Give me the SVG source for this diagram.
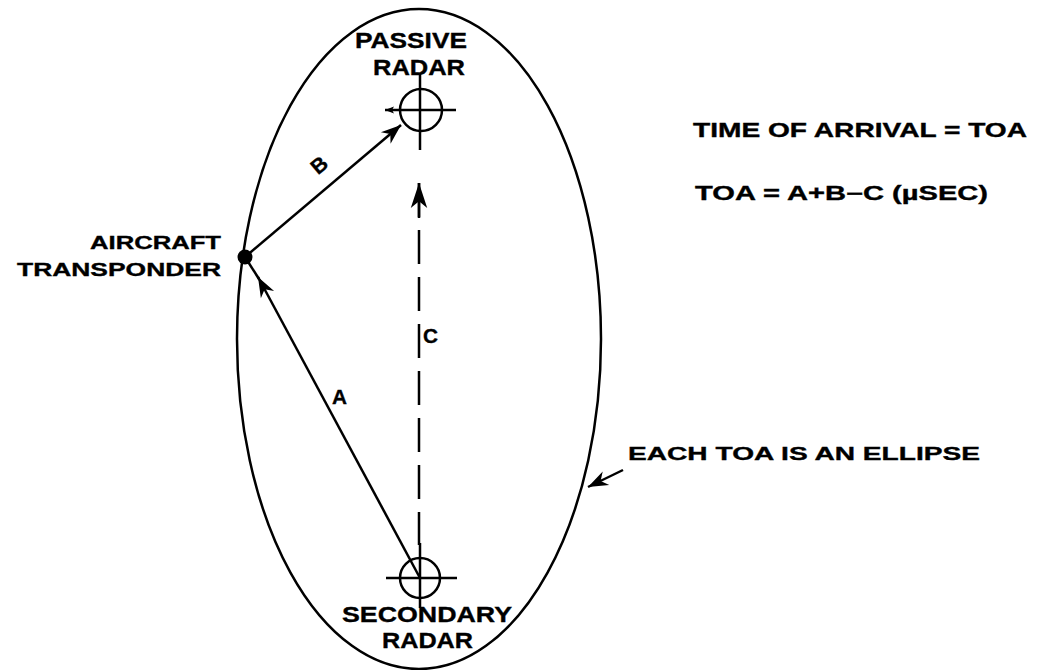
<svg xmlns="http://www.w3.org/2000/svg" width="1040" height="670" viewBox="0 0 1040 670">
<style>
.ln{stroke:#000;stroke-width:2.5;fill:none;stroke-linecap:butt}
.t{font-family:"Liberation Sans",Arial,sans-serif;font-weight:bold;fill:#000;stroke:#000;stroke-width:0.35}
</style>
<defs>
<marker id="ah" markerUnits="userSpaceOnUse" markerWidth="24" markerHeight="18" viewBox="-21 -9 23 18" refX="0" refY="0" orient="auto">
<path d="M0,0 L-20,-7.5 L-14,0 L-20,7.5 Z" fill="#000"/>
</marker>
<marker id="ahc" markerUnits="userSpaceOnUse" markerWidth="28" markerHeight="20" viewBox="-27 -10 29 20" refX="0" refY="0" orient="auto">
<path d="M0,0 L-26,-8.5 L-19,0 L-26,8.5 Z" fill="#000"/>
</marker>
<marker id="ahs" markerUnits="userSpaceOnUse" markerWidth="12" markerHeight="10" viewBox="-10 -5 12 10" refX="0" refY="0" orient="auto">
<path d="M0,0 L-9,-3.5 L-7,0 L-9,3.5 Z" fill="#000"/>
</marker>
</defs>
<rect width="1040" height="670" fill="#fff"/>

<g id="ellipse">
<ellipse class="ln" cx="419" cy="339" rx="182" ry="330"/>
</g>

<g id="passive-radar">
<circle class="ln" cx="421" cy="110" r="21"/>
<line class="ln" x1="456" y1="110" x2="385" y2="110" marker-end="url(#ahs)"/>
<line class="ln" x1="420" y1="73" x2="420" y2="150"/>
<text class="t" x="355" y="48" font-size="22" textLength="112" lengthAdjust="spacingAndGlyphs">PASSIVE</text>
<text class="t" x="373" y="75" font-size="22" textLength="92" lengthAdjust="spacingAndGlyphs">RADAR</text>
</g>

<g id="secondary-radar">
<circle class="ln" cx="420" cy="578" r="20"/>
<line class="ln" x1="386" y1="578" x2="457" y2="578"/>
<line class="ln" x1="420" y1="543" x2="420" y2="608"/>
<text class="t" x="342" y="622" font-size="22" textLength="170" lengthAdjust="spacingAndGlyphs">SECONDARY</text>
<text class="t" x="382" y="648" font-size="22" textLength="91" lengthAdjust="spacingAndGlyphs">RADAR</text>
</g>

<g id="aircraft-transponder">
<circle cx="245" cy="257" r="7.5" fill="#000"/>
<text class="t" x="90" y="249" font-size="18.5" textLength="131" lengthAdjust="spacingAndGlyphs">AIRCRAFT</text>
<text class="t" x="17" y="276" font-size="18.5" textLength="204" lengthAdjust="spacingAndGlyphs">TRANSPONDER</text>
</g>

<g id="connectors">
<line class="ln" x1="245" y1="257" x2="401" y2="125" marker-end="url(#ah)"/>
<line class="ln" x1="420" y1="578" x2="258" y2="277" marker-end="url(#ah)"/>
<line class="ln" x1="259" y1="279" x2="245" y2="257"/>
<line class="ln" x1="419" y1="183" x2="419" y2="545" stroke-dasharray="34 13"/>
<line class="ln" x1="419" y1="218" x2="419" y2="183" marker-end="url(#ahc)"/>
<line class="ln" x1="623" y1="470" x2="588" y2="487" stroke-width="3.2" marker-end="url(#ah)"/>
<text class="t" font-size="21" text-anchor="middle" transform="translate(319,165) rotate(-40)" y="7.5">B</text>
<text class="t" x="332" y="404" font-size="21" textLength="15" lengthAdjust="spacingAndGlyphs">A</text>
<text class="t" x="423" y="343" font-size="21" textLength="15" lengthAdjust="spacingAndGlyphs">C</text>
</g>

<g id="notes">
<text class="t" x="693" y="137" font-size="19.5" textLength="334" lengthAdjust="spacingAndGlyphs">TIME OF ARRIVAL = TOA</text>
<text class="t" x="695" y="200" font-size="19.5" textLength="293" lengthAdjust="spacingAndGlyphs">TOA = A+B−C (µSEC)</text>
<text class="t" x="628" y="460" font-size="19" textLength="352" lengthAdjust="spacingAndGlyphs">EACH TOA IS AN ELLIPSE</text>
</g>
</svg>
